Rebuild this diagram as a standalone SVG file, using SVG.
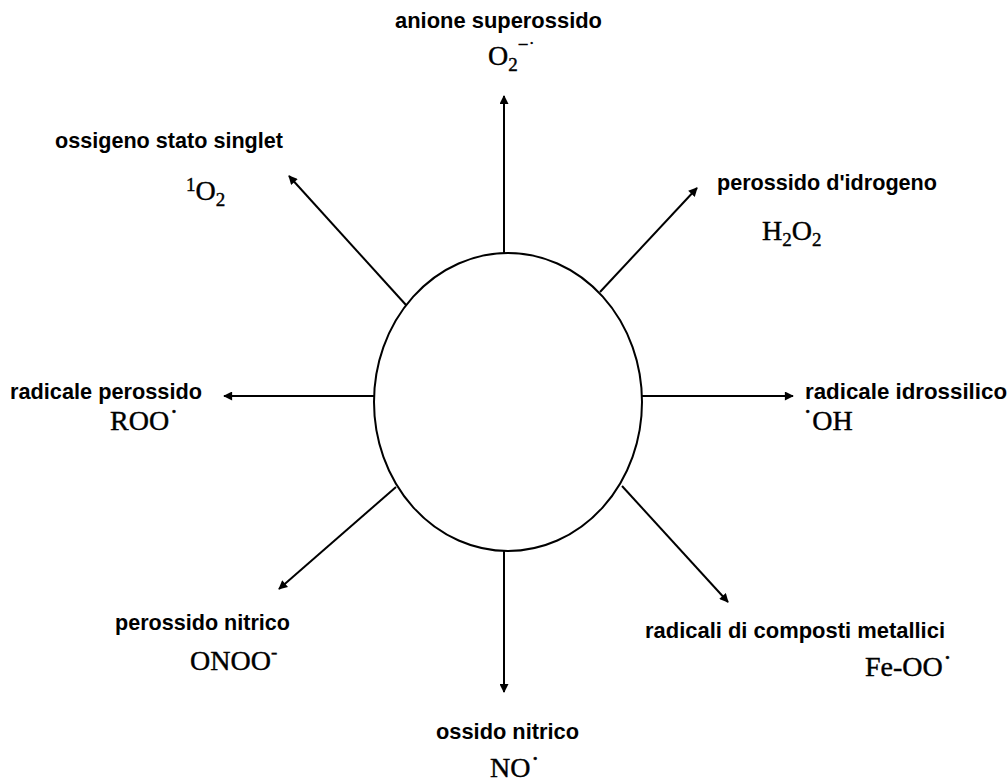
<svg xmlns="http://www.w3.org/2000/svg" width="1007" height="783" viewBox="0 0 1007 783">
<defs>
<style>
.lbl{font-family:"Liberation Sans",Arial,sans-serif;font-weight:bold;font-size:22px;fill:#000}
.chem{font-family:"Liberation Serif","Times New Roman",serif;font-size:28px;fill:#000;stroke:#000;stroke-width:0.4}
.sub{font-size:19px}
.conn line{stroke:#000;stroke-width:2;marker-end:url(#ah)}
</style>
<marker id="ah" viewBox="0 0 10 10" refX="9" refY="5" markerWidth="10" markerHeight="9" orient="auto" markerUnits="userSpaceOnUse">
<path d="M0,0 L10,5 L0,10 Z" fill="#000"/>
</marker>
</defs>
<rect width="1007" height="783" fill="#fff"/>
<g id="center">
<ellipse cx="508" cy="402" rx="134" ry="149" fill="#fff" stroke="#000" stroke-width="2"/>
</g>
<g id="connectors" class="conn">
<line x1="504" y1="253" x2="504" y2="96"/>
<line x1="406" y1="305" x2="289" y2="176"/>
<line x1="600" y1="292" x2="697" y2="188"/>
<line x1="375" y1="396" x2="224" y2="396"/>
<line x1="642" y1="396" x2="793" y2="396"/>
<line x1="396" y1="487" x2="279" y2="589"/>
<line x1="622" y1="486" x2="728" y2="602"/>
<line x1="504" y1="551" x2="504" y2="692"/>
</g>
<g id="n-superossido">
<text class="lbl" x="395" y="28" textLength="207" lengthAdjust="spacingAndGlyphs">anione superossido</text>
<text class="chem" x="488" y="65">O<tspan class="sub" dy="6">2</tspan><tspan class="sub" dy="-20">−</tspan><tspan class="sub" dy="4">˙</tspan></text>
</g>
<g id="n-singlet">
<text class="lbl" x="55" y="148" textLength="228" lengthAdjust="spacingAndGlyphs">ossigeno stato singlet</text>
<text class="chem" x="186" y="200"><tspan class="sub" dy="-9">1</tspan><tspan dy="9">O</tspan><tspan class="sub" dy="6">2</tspan></text>
</g>
<g id="n-perossido-idrogeno">
<text class="lbl" x="717" y="190" textLength="220" lengthAdjust="spacingAndGlyphs">perossido d'idrogeno</text>
<text class="chem" x="762" y="240">H<tspan class="sub" dy="6">2</tspan><tspan dy="-6">O</tspan><tspan class="sub" dy="6">2</tspan></text>
</g>
<g id="n-perossido">
<text class="lbl" x="10" y="399" textLength="192" lengthAdjust="spacingAndGlyphs">radicale perossido</text>
<text class="chem" x="110" y="430">ROO<tspan dy="-2">˙</tspan></text>
</g>
<g id="n-idrossilico">
<text class="lbl" x="805" y="399" textLength="202" lengthAdjust="spacingAndGlyphs">radicale idrossilico</text>
<text class="chem" x="803" y="430"><tspan dy="-2">˙</tspan><tspan dy="2">OH</tspan></text>
</g>
<g id="n-nitrico-perossido">
<text class="lbl" x="115" y="630" textLength="175" lengthAdjust="spacingAndGlyphs">perossido nitrico</text>
<text class="chem" x="190" y="670">ONOO<tspan class="sub" dy="-12">-</tspan></text>
</g>
<g id="n-metallici">
<text class="lbl" x="645" y="638" textLength="300" lengthAdjust="spacingAndGlyphs">radicali di composti metallici</text>
<text class="chem" x="865" y="676">Fe-OO<tspan dy="-2">˙</tspan></text>
</g>
<g id="n-ossido-nitrico">
<text class="lbl" x="436" y="739" textLength="143" lengthAdjust="spacingAndGlyphs">ossido nitrico</text>
<text class="chem" x="490" y="777">NO<tspan dy="-2">˙</tspan></text>
</g>
</svg>
